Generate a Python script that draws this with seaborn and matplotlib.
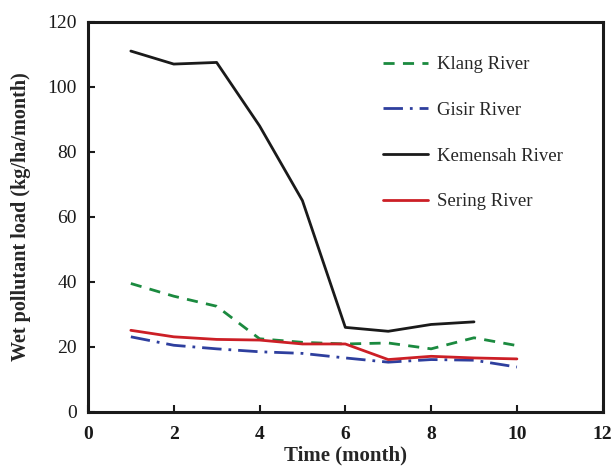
import matplotlib
matplotlib.use("Agg")
import matplotlib.pyplot as plt
import seaborn as sns
import pandas as pd

months = [1, 2, 3, 4, 5, 6, 7, 8, 9, 10]
klang = [39.5, 35.6, 32.5, 22.5, 21.4, 20.9, 21.2, 19.4, 22.8, 20.4]
gisir = [23.1, 20.5, 19.4, 18.5, 18.0, 16.6, 15.3, 16.1, 15.9, 13.8]
kemensah_months = [1, 2, 3, 4, 5, 6, 7, 8, 9]
kemensah = [111, 107, 107.5, 88, 65, 26, 24.8, 26.9, 27.7]
sering = [25.1, 23.1, 22.3, 22.1, 20.9, 20.9, 16.1, 17.1, 16.6, 16.3]

x_ticks = [0, 2, 4, 6, 8, 10, 12]
y_ticks = [0, 20, 40, 60, 80, 100, 120]

sns.set_theme(style="ticks")
plt.rcParams['font.family'] = ['Liberation Serif', 'DejaVu Serif']

fig = plt.figure(figsize=(6.15, 4.74), dpi=100)
ax = fig.add_axes([0.143, 0.131, 0.837, 0.823])

series = [
    ("Klang River", months, klang, "#1b8a3f", (0, (4, 3))),
    ("Gisir River", months, gisir, "#2e3f9e", (0, (7, 2.5, 1, 2.5))),
    ("Kemensah River", kemensah_months, kemensah, "#1a1a1a", "-"),
    ("Sering River", months, sering, "#cc1f26", "-"),
]
for name, xs, ys, col, ls in series:
    df = pd.DataFrame({"x": xs, "y": ys})
    sns.lineplot(data=df, x="x", y="y", ax=ax, color=col, linestyle=ls,
                 linewidth=2.0, label=name)

ax.set_xlim(0, 12)
ax.set_ylim(0, 120)
ax.set_xticks(x_ticks)
ax.set_yticks(y_ticks)
ax.set_xticklabels([str(t) for t in x_ticks], fontweight="bold", fontsize=14)
ax.set_yticklabels([str(t) for t in y_ticks], fontsize=14)
ax.tick_params(direction="in", length=5, width=1.5, colors="#1a1a1a")
ax.tick_params(axis="y", pad=8)
ax.tick_params(axis="x", pad=10)
for sp in ax.spines.values():
    sp.set_visible(True)
    sp.set_linewidth(2.2)
    sp.set_color("#1a1a1a")

ax.set_xlabel("Time (month)", fontweight="bold", fontsize=15, labelpad=2)
ax.set_ylabel("Wet pollutant load (kg/ha/month)", fontweight="bold", fontsize=14.5, labelpad=12)

leg = ax.legend(loc="upper left", bbox_to_anchor=(0.54, 0.955), frameon=False,
                fontsize=13.5, handlelength=2.4, labelspacing=1.52, handletextpad=0.5)

fig.savefig("out.png", dpi=100)
